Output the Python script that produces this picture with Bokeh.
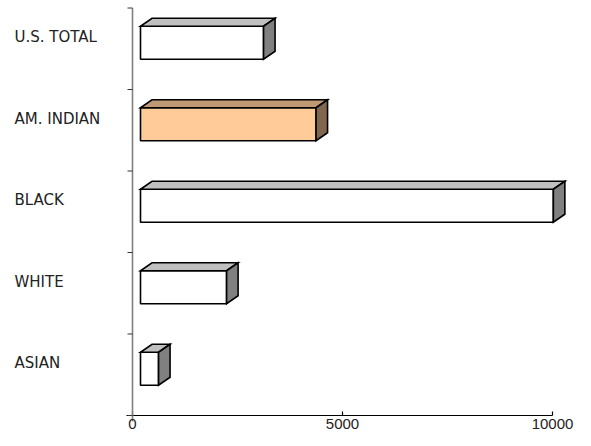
from bokeh.plotting import figure
from bokeh.models import Range1d
from bokeh.core.properties import value
from bokeh.embed import file_html
from bokeh.resources import INLINE

# ---- data (bottom to top) ----
categories = ["ASIAN", "WHITE", "BLACK", "AM. INDIAN", "U.S. TOTAL"]
values = [430, 2050, 9830, 4180, 2930]
front_colors = ["#FFFFFF", "#FFFFFF", "#FFFFFF", "#FFCC99", "#FFFFFF"]
top_colors = ["#C0C0C0", "#C0C0C0", "#C0C0C0", "#BF9973", "#C0C0C0"]
side_colors = ["#808080", "#808080", "#808080", "#80664C", "#808080"]
x_ticks = [0, 5000, 10000]
x_tick_labels = ["0", "5000", "10000"]

# ---- layout (frame covers the whole canvas) ----
W, H = 575, 430
AXIS_X = 132                 # canvas x of value 0
AXIS_Y = 415                 # canvas y of the category axis bottom
TOP_Y = 7.5                  # canvas y of the category axis top
px_x = 420 / 10000.0         # pixels per value unit
n = len(categories)
px_y = (AXIS_Y - TOP_Y) / n  # pixels per category band

x_start = -AXIS_X / px_x
x_end = (W - AXIS_X) / px_x
y_start = -(H - AXIS_Y) / px_y
y_end = n + TOP_Y / px_y

p = figure(width=W, height=H, output_backend="svg", toolbar_location=None,
           x_range=Range1d(x_start, x_end), y_range=Range1d(y_start, y_end),
           min_border=0)
p.xaxis.visible = False
p.yaxis.visible = False
p.outline_line_color = None
p.xgrid.visible = False
p.ygrid.visible = False
p.background_fill_color = "white"
p.border_fill_color = "white"

# ---- axes drawn as glyphs ----
ex = 6 / px_x
ey = 6 / px_y
# value axis line + inward ticks
p.segment(x0=[-ex], y0=[0], x1=[10000], y1=[0], line_color="black", line_width=1.2)
p.segment(x0=x_ticks, y0=[0] * len(x_ticks), x1=x_ticks,
          y1=[4 / px_y] * len(x_ticks), line_color="black", line_width=1.2)
# category axis line + outward ticks
bounds = list(range(n + 1))
p.segment(x0=[0], y0=[-ey], x1=[0], y1=[n], line_color="#808080", line_width=1.6)
p.segment(x0=[-5 / px_x] * len(bounds), y0=bounds, x1=[0] * len(bounds), y1=bounds,
          line_color="#333333", line_width=1)

# tick labels
p.text(x=x_ticks, y=[-3 / px_y] * len(x_ticks), text=x_tick_labels,
       text_font=value("Liberation Sans"), text_font_size="15px",
       text_color="#222222", text_align="center", text_baseline="top")

# ---- 3D bars ----
off = 8 / px_x
dx = 11.5 / px_x
dy = 8 / px_y
face_h = 33 / px_y
face_shift = 6 / px_y

centers = [i + 0.5 + face_shift for i in range(n)]
lefts = [off for _ in values]
rights = [off + v for v in values]
bottoms = [c - face_h / 2 for c in centers]
tops = [c + face_h / 2 for c in centers]

top_xs = [[l, r, r + dx, l + dx] for l, r in zip(lefts, rights)]
top_ys = [[t, t, t + dy, t + dy] for t in tops]
side_xs = [[r, r, r + dx, r + dx] for r in rights]
side_ys = [[b, t, t + dy, b + dy] for b, t in zip(bottoms, tops)]

lw = 1.6
p.quad(left=lefts, right=rights, bottom=bottoms, top=tops,
       fill_color=front_colors, line_color="black", line_width=lw)
p.patches(xs=top_xs, ys=top_ys, fill_color=top_colors, line_color="black",
          line_width=lw, line_join="miter")
p.patches(xs=side_xs, ys=side_ys, fill_color=side_colors, line_color="black",
          line_width=lw, line_join="miter")

# ---- category labels ----
label_x = (14 - AXIS_X) / px_x
p.text(x=[label_x] * n, y=[i + 0.5 + 11.5 / px_y for i in range(n)], text=categories,
       text_font=value("DejaVu Sans"), text_font_size="15px",
       text_color="#222222", text_align="left", text_baseline="middle")

open("out.html", "w").write(file_html(p, INLINE))
